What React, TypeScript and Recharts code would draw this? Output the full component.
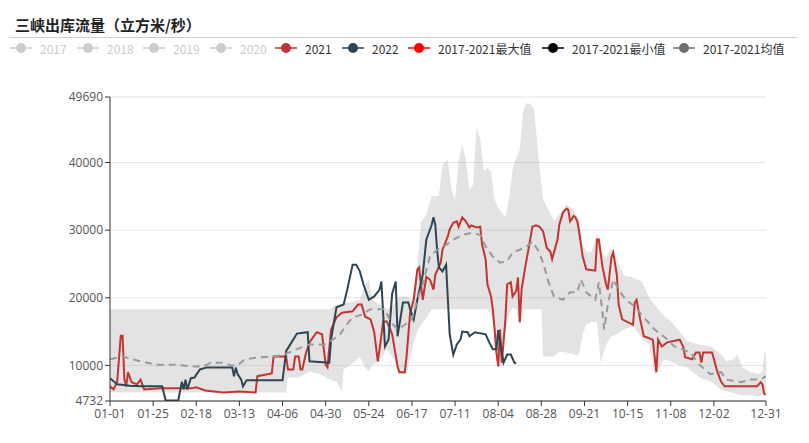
import React from 'react';
import { ComposedChart, Line, Area, XAxis, YAxis, CartesianGrid } from 'recharts';

const xTickDays = [0, 24, 48, 72, 96, 120, 144, 168, 192, 216, 240, 264, 288, 312, 336, 365];
const xTickLabels = ['01-01', '01-25', '02-18', '03-13', '04-06', '04-30', '05-24', '06-17', '07-11', '08-04', '08-28', '09-21', '10-15', '11-08', '12-02', '12-31'];
const yTicks = [4732, 10000, 20000, 30000, 40000, 49690];

const titleText = '三峡出库流量（立方米/秒）';
const legendNames = ['2017', '2018', '2019', '2020', '2021', '2022', '2017-2021最大值', '2017-2021最小值', '2017-2021均值'];
const legendColors = ['#cccccc', '#cccccc', '#cccccc', '#cccccc', '#c23531', '#2f4554', '#ff0000', '#000000', '#6e6e6e'];
const legendActive = [false, false, false, false, true, true, true, true, true];

// 2021
const days2021 = [0, 2, 4, 6, 7, 8, 9, 10, 12, 15, 17, 19, 28, 45, 48, 53, 63, 72, 81, 82, 90, 91, 98, 99, 102, 103, 105, 106, 107, 109, 111, 115, 118, 120, 121, 123, 126, 129, 135, 138, 140, 142, 145, 147, 149, 150, 152, 154, 156, 157, 160, 161, 164, 165, 167, 169, 171, 172, 173, 174, 176, 178, 180, 181, 184, 185, 188, 189, 191, 193, 194, 196, 198, 200, 201, 204, 206, 207, 209, 210, 212, 213, 214, 215, 216, 217, 218, 220, 221, 223, 224, 226, 227, 228, 229, 231, 233, 235, 237, 239, 241, 243, 245, 246, 249, 250, 252, 254, 255, 256, 258, 259, 260, 261, 263, 265, 270, 271, 272, 274, 276, 277, 279, 280, 282, 283, 285, 291, 292, 293, 295, 297, 302, 304, 305, 307, 310, 317, 319, 320, 324, 326, 328, 329, 330, 335, 336, 338, 340, 342, 360, 362, 363, 364, 365];
const vals2021 = [6900, 6450, 7600, 14400, 14400, 7900, 6900, 9000, 7500, 7200, 7900, 6450, 6600, 6600, 6750, 6300, 6000, 6150, 6000, 8400, 8800, 11300, 11300, 9400, 9400, 11300, 11300, 9400, 9400, 11800, 13400, 14900, 14600, 10100, 9700, 15300, 17100, 17800, 18000, 19000, 19000, 17200, 16800, 14900, 10600, 12400, 16500, 16500, 15300, 14600, 9850, 9000, 9000, 11300, 17800, 19700, 24200, 24500, 22000, 19700, 23100, 22700, 21200, 23400, 25200, 27100, 29100, 30100, 31100, 31300, 30500, 31900, 31300, 30400, 30700, 30400, 30500, 27900, 25700, 22000, 20200, 18300, 15300, 11900, 9850, 15300, 10400, 16800, 22000, 22300, 20200, 21000, 23000, 16400, 21200, 24500, 27400, 30500, 30700, 30500, 29800, 27400, 26800, 25700, 28600, 30800, 32600, 33200, 33000, 31300, 32100, 31900, 31300, 29800, 26100, 24200, 24000, 28600, 28600, 24600, 22000, 21200, 26000, 26700, 23400, 19000, 16800, 16000, 19300, 19700, 16800, 14300, 13800, 9000, 13800, 12800, 13400, 13800, 12700, 11200, 10900, 11900, 11900, 10400, 11900, 11900, 10900, 9000, 7600, 6900, 6900, 7500, 7200, 5800, 5700];

// 2022
const days2022 = [0, 4, 11, 18, 29, 31, 38, 40, 41, 42, 43, 45, 47, 50, 54, 63, 68, 69, 70, 71, 73, 74, 76, 96, 98, 101, 104, 110, 111, 122, 123, 126, 130, 132, 135, 137, 139, 141, 144, 147, 150, 151, 153, 155, 157, 159, 160, 163, 166, 167, 169, 171, 174, 176, 179, 180, 181, 182, 183, 185, 187, 188, 189, 191, 193, 195, 196, 199, 200, 203, 209, 211, 213, 215, 216, 218, 219, 221, 223, 225, 226];
const vals2022 = [8100, 7200, 7000, 6900, 6900, 4800, 4800, 7600, 6450, 7900, 6450, 8100, 8200, 9400, 9700, 9700, 9700, 8400, 9700, 8700, 7900, 6900, 7800, 7800, 12100, 13400, 14700, 14900, 10600, 10400, 13800, 18600, 19000, 21200, 24900, 24900, 23900, 22000, 19700, 20200, 21200, 22400, 12800, 13800, 20600, 22400, 14300, 19300, 19300, 18300, 16800, 19700, 23400, 28600, 30800, 31900, 30800, 27100, 24500, 23900, 24900, 19700, 14600, 11600, 13100, 13800, 15000, 14900, 14300, 14900, 14600, 13400, 12400, 12400, 15200, 11900, 10400, 11600, 11600, 10400, 10300];

// 2017-2021 max / min band
const bandDays = [0, 98, 99, 105, 111, 117, 122, 126, 128, 129, 130, 134, 139, 142, 144, 146, 150, 154, 158, 161, 165, 168, 171, 173, 176, 179, 183, 185, 188, 190, 192, 194, 196, 198, 200, 202, 204, 206, 208, 210, 212, 214, 216, 218, 220, 222, 224, 226, 228, 230, 232, 234, 236, 238, 240, 241, 244, 247, 250, 254, 258, 261, 263, 265, 268, 271, 273, 276, 279, 282, 286, 291, 296, 300, 303, 305, 308, 312, 316, 321, 328, 335, 340, 343, 347, 349, 352, 356, 361, 363, 364, 365];
const bandMax = [18300, 18300, 18300, 18300, 18300, 18300, 18300, 19000, 19000, 19000, 19300, 19300, 19700, 22000, 22700, 19700, 19000, 18300, 19000, 20200, 20200, 19700, 24600, 31100, 32300, 35000, 35000, 39700, 40400, 36000, 34500, 40400, 42600, 40400, 36000, 36700, 45300, 43400, 38700, 39200, 38700, 34500, 33300, 32600, 31900, 34500, 38900, 40700, 41900, 47800, 48800, 48600, 47800, 41900, 36700, 34500, 33000, 31300, 32300, 33800, 33000, 31300, 27900, 26800, 26800, 29300, 27100, 25900, 27400, 25500, 23300, 23000, 22400, 20000, 19000, 18300, 17400, 16500, 15300, 13600, 13100, 12700, 11600, 10600, 10900, 11600, 9700, 9100, 8700, 9100, 11600, 12000];
const bandMin = [6000, 6000, 8200, 8200, 9100, 8700, 7900, 7600, 6750, 6000, 9400, 10100, 11200, 9700, 9100, 10100, 10600, 12400, 10900, 8700, 8700, 12400, 15000, 16000, 17000, 18300, 18300, 18300, 18300, 18300, 18300, 18300, 18300, 18300, 18300, 18300, 18300, 18300, 18300, 18300, 17500, 14600, 9700, 10100, 14600, 17500, 18500, 18300, 15900, 18300, 18300, 18300, 18300, 18300, 18300, 11300, 11300, 11300, 12100, 11900, 11600, 11600, 14600, 16000, 16400, 16400, 10400, 13100, 14300, 14600, 15300, 15800, 14000, 13100, 8600, 9200, 10900, 10600, 10100, 9700, 8200, 7500, 6450, 6200, 5900, 5700, 5600, 5600, 5400, 5600, 5700, 5700];

// 2017-2021 mean
const meanDays = [0, 7, 17, 26, 36, 45, 52, 56, 63, 67, 71, 75, 83, 91, 97, 104, 111, 119, 124, 128, 131, 135, 140, 145, 153, 156, 160, 164, 168, 171, 174, 178, 182, 186, 191, 196, 201, 206, 209, 213, 217, 221, 224, 228, 232, 235, 238, 241, 244, 247, 252, 256, 260, 262, 265, 270, 272, 274, 275, 277, 280, 283, 287, 292, 298, 303, 309, 314, 323, 328, 334, 340, 343, 351, 356, 362, 365];
const meanVals = [10900, 11300, 10600, 10100, 10100, 9850, 9850, 10400, 10400, 10000, 10000, 10900, 11200, 11300, 11600, 12400, 13100, 13100, 13800, 14600, 15800, 17100, 17500, 18300, 18300, 16500, 15300, 16000, 16800, 19700, 22000, 26100, 27100, 27600, 28600, 29300, 29600, 29300, 27600, 26100, 25200, 25400, 26700, 27100, 27600, 28300, 27100, 25200, 22300, 20200, 19700, 20800, 20800, 22700, 20800, 19700, 22300, 17800, 15300, 19000, 22700, 21200, 19700, 18700, 16800, 15300, 14100, 12800, 11900, 10100, 8700, 9000, 7900, 7500, 7900, 7900, 8400];

const legendLeft = [10, 77, 143, 210, 275, 342, 408, 542, 673];

const toSeries = (days: number[], vals: number[]) => days.map((d, i) => ({ d, v: vals[i] }));

const axisFont = "'Open Sans', 'Noto Sans CJK SC', sans-serif";

export default function App() {
  const data2021 = toSeries(days2021, vals2021);
  const data2022 = toSeries(days2022, vals2022);
  const meanData = toSeries(meanDays, meanVals);
  const bandData = bandDays.map((d, i) => ({ d, range: [bandMin[i], bandMax[i]] }));

  return (
    <div style={{ position: 'absolute', left: 0, top: 0, width: 809, height: 443, background: '#fff', overflow: 'hidden' }}>
      <div style={{ position: 'absolute', left: 15, top: 16, fontSize: 15, lineHeight: '18px', fontWeight: 700, color: '#222', fontFamily: "'Noto Sans CJK SC', sans-serif", whiteSpace: 'nowrap' }}>
        {titleText}
      </div>
      <div style={{ position: 'absolute', left: 9, top: 37, width: 788, height: 1, background: '#cfcfcf' }} />
      {legendNames.map((name, i) => (
        <div key={name} style={{ position: 'absolute', left: legendLeft[i], top: 40, height: 16, display: 'flex', alignItems: 'center', whiteSpace: 'nowrap', fontFamily: "'Noto Sans CJK SC', sans-serif", fontSize: 12, color: legendActive[i] ? '#333' : '#ccc' }}>
          <svg width={22} height={12} style={{ display: 'block' }}>
            <line x1={0} y1={6} x2={22} y2={6} stroke={legendColors[i]} strokeWidth={1.5} />
            <circle cx={11} cy={6} r={5} fill={legendColors[i]} />
          </svg>
          <span style={{ marginLeft: 8 }}>{name}</span>
        </div>
      ))}
      <div style={{ position: 'absolute', left: 0, top: 0 }}>
        <ComposedChart width={809} height={443} margin={{ top: 97, right: 43, bottom: 12, left: 0 }}>
          <CartesianGrid vertical={false} stroke="#e4e4e4" />
          <XAxis
            type="number"
            dataKey="d"
            domain={[0, 365]}
            ticks={xTickDays}
            interval={0}
            allowDataOverflow
            height={30}
            tickSize={5}
            tickMargin={3}
            tickFormatter={(v: number) => xTickLabels[xTickDays.indexOf(v)] ?? ''}
            tick={{ fontSize: 12, fill: '#555', fontFamily: axisFont }}
            axisLine={{ stroke: '#333' }}
            tickLine={{ stroke: '#333' }}
          />
          <YAxis
            type="number"
            domain={[4732, 49690]}
            ticks={yTicks}
            interval={0}
            allowDataOverflow
            width={110}
            tickSize={5}
            tickMargin={2}
            tick={{ fontSize: 12, fill: '#555', fontFamily: axisFont }}
            axisLine={{ stroke: '#333' }}
            tickLine={{ stroke: '#333' }}
          />
          <Line data={data2021} dataKey="v" type="linear" stroke="#c23531" strokeWidth={2} dot={false} isAnimationActive={false} />
          <Line data={data2022} dataKey="v" type="linear" stroke="#2f4554" strokeWidth={2} dot={false} isAnimationActive={false} />
          <Area data={bandData} dataKey="range" type="linear" stroke="none" fill="#a8a8a8" fillOpacity={0.32} isAnimationActive={false} />
          <Line data={meanData} dataKey="v" type="linear" stroke="#9a9a9a" strokeWidth={2} strokeDasharray="7 5" dot={false} isAnimationActive={false} />
        </ComposedChart>
      </div>
    </div>
  );
}
